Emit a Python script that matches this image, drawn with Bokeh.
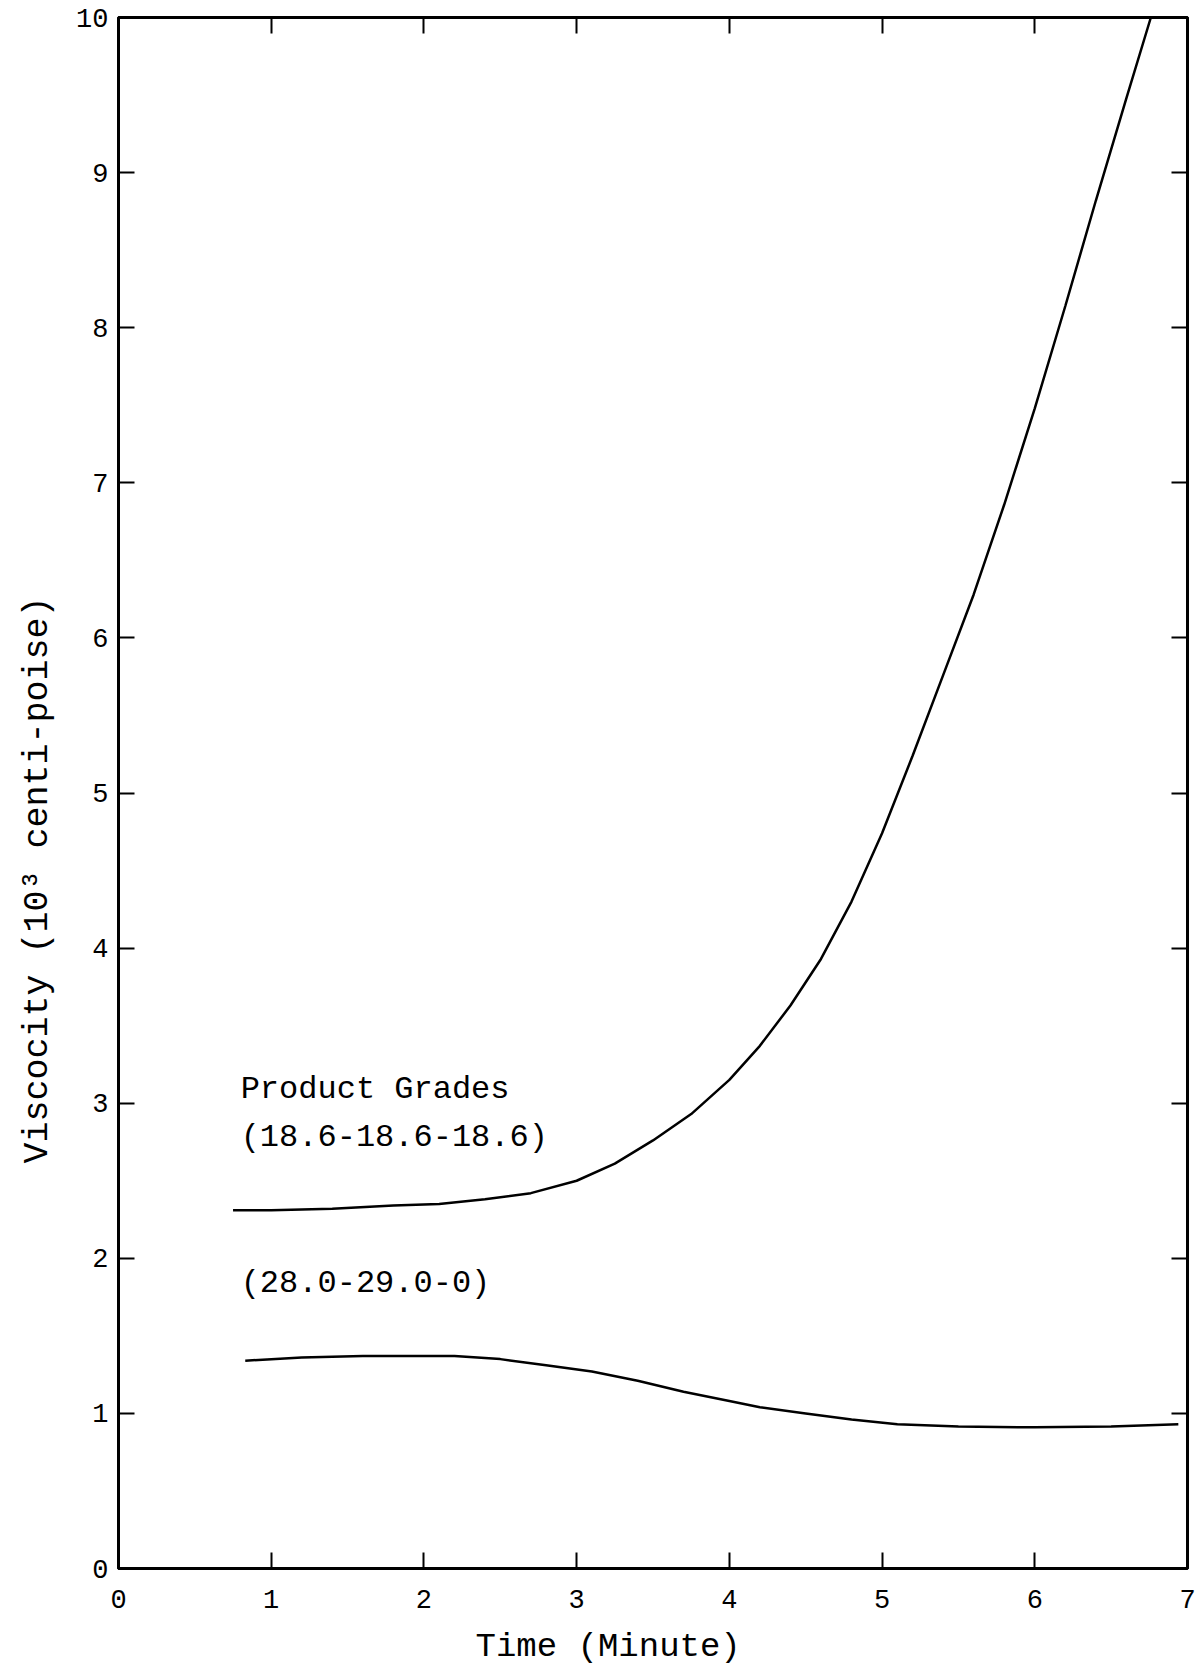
from bokeh.plotting import figure
from bokeh.models import LinearAxis, Range1d, FixedTicker, Title
from bokeh.core.properties import value
from bokeh.embed import file_html
from bokeh.resources import INLINE

# ---- data ----
x_grade_18 = [0.75, 1.0, 1.4, 1.8, 2.1, 2.4, 2.7, 3.0, 3.25, 3.5, 3.75, 4.0, 4.2, 4.4, 4.6, 4.8, 5.0, 5.2, 5.4, 5.6, 5.8, 6.0, 6.2, 6.4, 6.6, 6.76]
y_grade_18 = [2.31, 2.31, 2.32, 2.34, 2.35, 2.38, 2.42, 2.50, 2.61, 2.76, 2.93, 3.15, 3.37, 3.63, 3.93, 4.30, 4.74, 5.24, 5.76, 6.28, 6.86, 7.48, 8.14, 8.82, 9.48, 10.0]

x_grade_28 = [0.83, 1.2, 1.6, 2.0, 2.2, 2.5, 2.8, 3.1, 3.4, 3.7, 4.0, 4.2, 4.5, 4.8, 5.1, 5.5, 6.0, 6.5, 6.94]
y_grade_28 = [1.34, 1.36, 1.37, 1.37, 1.37, 1.35, 1.31, 1.27, 1.21, 1.14, 1.08, 1.04, 1.00, 0.96, 0.93, 0.915, 0.91, 0.915, 0.93]

x_ticks = [0, 1, 2, 3, 4, 5, 6, 7]
y_ticks = [0, 1, 2, 3, 4, 5, 6, 7, 8, 9, 10]

annot_texts = ["Product Grades", "(18.6-18.6-18.6)", "(28.0-29.0-0)"]
annot_x = [0.80, 0.80, 0.80]
annot_y = [3.09, 2.78, 1.84]

x_title = "Time (Minute)"
y_title = "Viscocity (10\u00b3 centi-poise)"

FONT = "Liberation Mono"

p = figure(width=1196, height=1680,
           x_range=Range1d(0, 7), y_range=Range1d(0, 10),
           output_backend="svg", toolbar_location=None,
           min_border_left=118, min_border_right=9,
           min_border_top=17, min_border_bottom=112)
p.grid.visible = False
p.outline_line_color = "black"
p.outline_line_width = 3
p.background_fill_color = "white"
p.border_fill_color = "white"

for ax, ticks in ((p.xaxis[0], x_ticks), (p.yaxis[0], y_ticks)):
    ax.ticker = FixedTicker(ticks=ticks)
    ax.minor_tick_line_color = None
    ax.major_tick_in = 16
    ax.major_tick_out = 0
    ax.major_tick_line_width = 2
    ax.major_tick_line_color = "black"
    ax.axis_line_width = 3
    ax.axis_line_color = "black"
    ax.major_label_text_font = FONT
    ax.major_label_text_font_size = "27px"
    ax.major_label_text_color = "black"

p.xaxis[0].major_label_standoff = 21
p.yaxis[0].major_label_standoff = 10

# ticks along the top and right edges, pointing into the plot, no labels
top_ax = LinearAxis(ticker=FixedTicker(ticks=x_ticks[1:-1]))
right_ax = LinearAxis(ticker=FixedTicker(ticks=y_ticks[1:-1]))
for ax in (top_ax, right_ax):
    ax.minor_tick_line_color = None
    ax.major_tick_in = 16
    ax.major_tick_out = 0
    ax.major_tick_line_width = 2
    ax.axis_line_width = 3
    ax.major_label_text_font_size = "0px"
    ax.major_label_standoff = 0
    ax.major_label_text_alpha = 0
p.add_layout(top_ax, "above")
p.add_layout(right_ax, "right")

p.line(x_grade_18, y_grade_18, line_color="black", line_width=2.5)
p.line(x_grade_28, y_grade_28, line_color="black", line_width=2.5)

p.text(x=annot_x, y=annot_y, text=annot_texts,
       text_font=value(FONT), text_font_size="32px",
       text_color="black", text_baseline="alphabetic", text_align="left")

xt = Title(text=x_title, align="left", offset=357, standoff=30,
           text_font=FONT, text_font_size="34px", text_font_style="normal",
           text_color="black")
yt = Title(text=y_title, align="left", offset=405, standoff=31,
           text_font=FONT, text_font_size="35px", text_font_style="normal",
           text_color="black")
p.add_layout(xt, "below")
p.add_layout(yt, "left")

open("out.html", "w").write(file_html(p, INLINE))
